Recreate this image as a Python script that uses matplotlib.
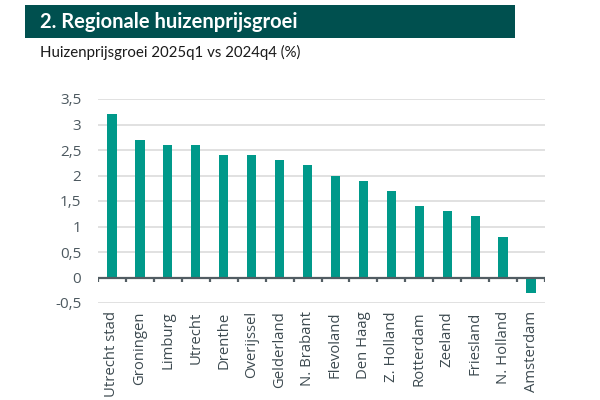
import matplotlib
matplotlib.use("Agg")
import matplotlib.pyplot as plt
from matplotlib.patches import Rectangle
import numpy as np

categories = ["Utrecht stad", "Groningen", "Limburg", "Utrecht", "Drenthe", "Overijssel",
              "Gelderland", "N. Brabant", "Flevoland", "Den Haag", "Z. Holland", "Rotterdam",
              "Zeeland", "Friesland", "N. Holland", "Amsterdam"]
values = [3.2, 2.7, 2.6, 2.6, 2.4, 2.4, 2.3, 2.2, 2.0, 1.9, 1.7, 1.4, 1.3, 1.2, 0.8, -0.3]
yticks = [-0.5, 0, 0.5, 1, 1.5, 2, 2.5, 3, 3.5]
ytick_labels = ["-0,5", "0", "0,5", "1", "1,5", "2", "2,5", "3", "3,5"]
title = "2. Regionale huizenprijsgroei"
subtitle = "Huizenprijsgroei 2025q1 vs 2024q4 (%)"

plt.rcParams['font.family'] = ['Open Sans', 'DejaVu Sans']
W, H = 600, 400
fig = plt.figure(figsize=(6, 4), dpi=100)
fig.patch.set_facecolor("white")

# header band
fig.patches.append(Rectangle((25 / W, 1 - 38 / H), 490 / W, 33 / H, transform=fig.transFigure,
                             facecolor="#00504F", edgecolor="none"))
fig.text(40 / W, 1 - 21.5 / H, title, color="white", fontsize=14.5, fontweight="bold",
         va="center", ha="left", family=["Lato", "DejaVu Sans"])
fig.text(40 / W, 1 - 52 / H, subtitle, color="#1a1a1a", fontsize=10.8, va="center", ha="left",
         family=["Lato", "DejaVu Sans"])

# axes: x from 98 to 545, y from 99 (3.5) to 303 (-0.5)
ax = fig.add_axes([98 / W, 1 - 303 / H, 447 / W, 204 / H])
n = len(categories)
x = np.arange(n)
ax.bar(x, values, width=0.33, color="#00998A", zorder=3)
ax.set_xlim(-0.5, n - 0.5)
ax.set_ylim(-0.5, 3.5)
ax.set_yticks(yticks)
ax.set_yticklabels(ytick_labels)
for v in yticks:
    if v != 0:
        ax.axhline(v, color="#d9d9d9", lw=1.1, zorder=1)
ax.axhline(0, color="#525d63", lw=1.6, zorder=4)
for b in np.arange(-0.5, n, 1.0):
    ax.plot([b, b], [0, -0.08], color="#525d63", lw=1.6, zorder=4, solid_capstyle="butt")
for s in ax.spines.values():
    s.set_visible(False)
ax.tick_params(axis="y", length=0, labelsize=11, labelcolor="#4d5960", pad=12)
for lab in ax.get_yticklabels():
    lab.set_fontweight("medium")
ax.set_xticks(x)
ax.set_xticklabels(categories, rotation=90, fontsize=10.7, color="#3d4a50", va="top", ha="center",
                   fontweight="medium")
ax.tick_params(axis="x", length=0, pad=6)
ax.set_facecolor("none")

fig.savefig("out.png", dpi=100)
